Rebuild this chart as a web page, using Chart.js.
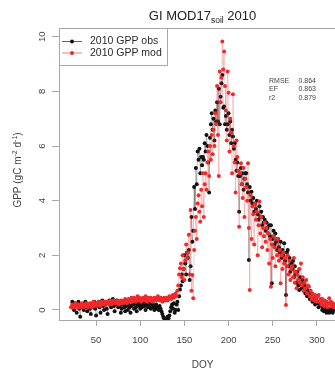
<!DOCTYPE html>
<html>
<head>
<meta charset="utf-8">
<script src="https://cdn.jsdelivr.net/npm/chart.js@4"></script>
<style>
  html, body { margin:0; padding:0; background:#fff; overflow:hidden; }
  #wrap { width:350px; height:371px; }
</style>
</head>
<body>
<div id="wrap"><canvas id="gpp" width="350" height="371"></canvas></div>
<script>
// —————— DATA ——————
const firstDoy = 22;
const xTicks = [50, 100, 150, 200, 250, 300];
const yTicks = [0, 2, 4, 6, 8, 10];

// observed GPP, one value per day from DOY 22
const gppObs = [
  0.1, 0.3, 0.2, 0.0, 0.25, 0.15, -0.1, 0.2, 0.3, 0.05,
  -0.25, 0.1, 0.2, 0.15, 0.0, 0.25, 0.3, 0.1, -0.05, 0.2,
  0.15, 0.05, -0.15, 0.2, 0.25, 0.1, 0.3, 0.05, -0.2, 0.15,
  0.2, 0.3, 0.1, -0.1, 0.25, 0.35, 0.15, 0.0, 0.3, 0.2,
  0.05, -0.15, 0.25, 0.35, 0.2, 0.1, 0.3, 0.4, 0.15, -0.05,
  0.2, 0.35, 0.25, 0.1, 0.3, 0.15, -0.1, 0.05, 0.2, 0.3,
  0.1, -0.05, 0.15, 0.25, 0.0, 0.2, 0.1, -0.1, 0.15, 0.3,
  0.2, 0.05, 0.25, 0.1, -0.05, 0.2, 0.3, 0.15, 0.05, 0.25,
  0.1, 0.2, 0.3, 0.15, 0.0, 0.2, 0.25, 0.1, 0.3, 0.15,
  0.05, 0.2, 0.25, 0.1, 0.0, 0.15, 0.2, 0.05, 0.1, 0.0,
  0.15, 0.05, -0.05, -0.15, -0.25, -0.3, -0.35, -0.35, -0.3, -0.25,
  -0.3, -0.2, -0.05, 0.1, 0.2, 0.05, 0.25, -0.1, 0.0, 0.2,
  0.3, 0.0, 0.5, 0.75, 0.9, 1.3, 1.05, 1.5, 2.0, 1.7,
  1.3, 2.1, 1.9, 2.2, 1.1, 1.6, 3.4, 2.5, 2.9, 4.5,
  3.7, 5.2, 4.6, 5.8, 5.5, 5.9, 5.0, 5.6, 5.3, 5.6,
  5.5, 6.1, 5.8, 6.4, 6.0, 5.4, 4.3, 6.3, 6.8, 7.2,
  6.6, 7.0, 6.2, 7.3, 6.9, 7.6, 6.9, 8.1, 6.8, 7.8,
  8.3, 8.6, 7.4, 7.45, 6.8, 7.1, 6.6, 6.8, 7.2, 6.4,
  6.9, 6.1, 6.6, 6.35, 5.9, 6.1, 5.5, 5.1, 5.4, 4.9,
  3.6, 4.9, 5.2, 4.6, 5.0, 4.4, 4.8, 5.0, 5.0, 4.6,
  4.3, 1.83, 4.5, 4.0, 4.33, 3.9, 4.1, 3.6, 3.9, 3.7,
  4.0, 3.5, 3.3, 3.8, 3.4, 3.6, 3.1, 3.4, 3.2, 3.3,
  2.9, 3.2, 3.0, 2.8, 3.1, 2.7, 3.1, 0.98, 2.6, 2.9,
  2.4, 2.8, 2.5, 2.2, 2.6, 2.3, 2.1, 2.5, 1.9, 2.2,
  2.0, 2.44, 1.8, 0.55, 2.1, 2.2, 1.6, 1.9, 1.4, 1.7,
  1.5, 1.8, 1.2, 1.6, 1.3, 1.0, 1.4, 0.9, 0.73, 1.2,
  1.0, 0.8, 1.1, 0.7, 0.9, 0.6, 0.8, 0.5, 0.7, 0.6,
  0.4, 0.6, 0.5, 0.3, 0.45, 0.35, 0.2, 0.4, 0.3, 0.25,
  0.1, 0.3, 0.2, 0.18, 0.0, 0.1, -0.05, 0.15, 0.0, -0.1,
  -0.06, 0.05, -0.1, 0.0, -0.05, 0.05, -0.1, 0.0, 0.1
];

// modelled GPP (MOD17 soil), same days
const gppMod = [
  0.1, 0.2, 0.15, 0.1, 0.2, 0.25, 0.15, 0.1, 0.2, 0.15,
  0.1, 0.2, 0.25, 0.15, 0.1, 0.2, 0.15, 0.25, 0.2, 0.1,
  0.15, 0.25, 0.2, 0.1, 0.2, 0.3, 0.15, 0.2, 0.25, 0.15,
  0.2, 0.3, 0.25, 0.15, 0.2, 0.3, 0.25, 0.2, 0.3, 0.2,
  0.25, 0.3, 0.2, 0.3, 0.35, 0.25, 0.2, 0.3, 0.35, 0.25,
  0.3, 0.25, 0.35, 0.3, 0.2, 0.3, 0.35, 0.3, 0.25, 0.35,
  0.3, 0.4, 0.3, 0.25, 0.35, 0.4, 0.3, 0.35, 0.45, 0.3,
  0.35, 0.45, 0.4, 0.3, 0.4, 0.5, 0.35, 0.45, 0.4, 0.3,
  0.4, 0.45, 0.35, 0.4, 0.5, 0.4, 0.3, 0.45, 0.4, 0.35,
  0.45, 0.4, 0.3, 0.35, 0.45, 0.4, 0.35, 0.45, 0.5, 0.4,
  0.35, 0.45, 0.4, 0.3, 0.4, 0.45, 0.35, 0.4, 0.45, 0.35,
  0.4, 0.5, 0.45, 0.4, 0.5, 0.55, 0.45, 0.5, 0.6, 0.5,
  0.7, 0.9, 1.3, 1.53, 1.7, 1.2, 2.0, 1.5, 1.1, 1.8,
  2.4, 1.9, 2.1, 2.75, 1.3, 3.66, 0.7, 1.28, 0.43, 2.2,
  2.9, 3.4, 2.6, 3.9, 4.2, 3.6, 3.23, 4.4, 3.8, 5.0,
  3.4, 4.6, 5.0, 4.4, 5.4, 5.8, 4.9, 6.0, 5.5, 6.4,
  5.7, 6.6, 6.0, 7.2, 6.8, 8.2, 6.4, 4.9, 8.73, 7.6,
  8.5, 9.83, 8.8, 9.46, 8.2, 7.3, 6.2, 8.73, 7.95, 5.8,
  7.0, 6.5, 5.0, 7.9, 6.0, 5.4, 4.3, 6.2, 5.6, 5.1,
  3.05, 5.0, 5.37, 4.6, 4.1, 5.2, 3.4, 4.8, 4.5, 4.0,
  5.37, 3.0, 0.73, 4.2, 2.6, 3.8, 3.5, 2.4, 3.9, 3.3,
  3.6, 2.0, 3.1, 3.97, 2.8, 3.4, 2.3, 3.0, 2.7, 3.2,
  2.5, 3.0, 2.2, 2.8, 1.7, 2.6, 0.85, 2.4, 1.9, 2.7,
  2.3, 1.6, 2.6, 2.0, 2.6, 1.8, 2.2, 0.98, 2.0, 1.5,
  2.1, 1.7, 1.9, 0.18, 1.6, 2.0, 1.3, 1.8, 1.1, 1.5,
  1.6, 1.2, 1.9, 1.0, 1.4, 0.8, 1.3, 1.1, 1.5, 1.0,
  1.7, 0.9, 1.2, 0.7, 1.0, 0.8, 1.1, 0.6, 0.9, 0.85,
  0.5, 0.7, 0.4, 0.6, 0.5, 0.35, 0.55, 0.4, 0.3, 0.5,
  0.55, 0.3, 0.4, 0.2, 0.4, 0.3, 0.15, 0.35, 0.2, 0.3,
  0.1, 0.25, 0.43, 0.2, 0.3, 0.15, 0.25, 0.1, 0.2
];

const statLabels = ['RMSE', 'EF', 'r2'];
const statValues = ['0.864', '0.863', '0.879'];

// —————— STYLE ——————
const FONT = "'Liberation Sans', Arial, Helvetica, sans-serif";
const AXIS_GREY = '#a8a8a8';
const TEXT = '#444';
const RED = '#ee2a2a';

function toPoints(vals) {
  return vals.map((v, i) => ({ x: firstDoy + i, y: v }));
}

// draws a run of text pieces (for sub/superscripts), centred on x
function drawRich(ctx, parts, x, y) {
  let total = 0;
  parts.forEach(p => {
    ctx.font = p.size + 'px ' + FONT;
    p.w = ctx.measureText(p.t).width;
    total += p.w;
  });
  let cx = x - total / 2;
  ctx.textAlign = 'left';
  ctx.textBaseline = 'alphabetic';
  parts.forEach(p => {
    ctx.font = p.size + 'px ' + FONT;
    ctx.fillText(p.t, cx, y + (p.dy || 0));
    cx += p.w;
  });
}

const decor = {
  id: 'decor',
  afterDraw(chart) {
    const { ctx, chartArea: a, scales } = chart;
    ctx.save();

    // plot box: top + right
    ctx.strokeStyle = AXIS_GREY;
    ctx.lineWidth = 1;
    ctx.beginPath();
    ctx.moveTo(a.left, a.top + 0.5);
    ctx.lineTo(a.right + 0.5, a.top + 0.5);
    ctx.lineTo(a.right + 0.5, a.bottom);
    ctx.stroke();

    ctx.fillStyle = '#222';
    // title
    const mid = (a.left + a.right) / 2;
    drawRich(ctx, [
      { t: 'GI MOD17', size: 13 },
      { t: 'soil', size: 8.5, dy: 3 },
      { t: ' 2010', size: 13 }
    ], mid, 20);

    ctx.fillStyle = TEXT;
    // y tick labels, rotated like R
    ctx.font = '9.5px ' + FONT;
    yTicks.forEach(v => {
      const py = scales.y.getPixelForValue(v);
      ctx.save();
      ctx.translate(45, py);
      ctx.rotate(-Math.PI / 2);
      ctx.textAlign = 'center';
      ctx.textBaseline = 'alphabetic';
      ctx.fillText(String(v), 0, 0);
      ctx.restore();
    });

    // y title
    ctx.save();
    ctx.translate(21, 170);
    ctx.rotate(-Math.PI / 2);
    drawRich(ctx, [
      { t: 'GPP (gC m', size: 10 },
      { t: '-2', size: 7, dy: -4 },
      { t: ' d', size: 10 },
      { t: '-1', size: 7, dy: -4 },
      { t: ')', size: 10 }
    ], 0, 0);
    ctx.restore();

    // x title
    ctx.font = '10px ' + FONT;
    ctx.textAlign = 'center';
    ctx.textBaseline = 'middle';
    ctx.fillText('DOY', mid, 365);

    // legend box
    const lx = a.left, ly = a.top, lw = 108, lh = 37;
    ctx.fillStyle = '#fff';
    ctx.fillRect(lx + 0.5, ly + 0.5, lw, lh);
    ctx.strokeStyle = AXIS_GREY;
    ctx.strokeRect(lx + 0.5, ly + 0.5, lw, lh);
    chart.data.datasets.forEach((ds, i) => {
      const ry = ly + 13.5 + i * 11.5;
      ctx.strokeStyle = ds.legendLine;
      ctx.lineWidth = 1;
      ctx.beginPath();
      ctx.moveTo(lx + 3, ry);
      ctx.lineTo(lx + 23, ry);
      ctx.stroke();
      ctx.fillStyle = ds.pointBackgroundColor;
      ctx.beginPath();
      ctx.arc(lx + 13, ry, 2, 0, Math.PI * 2);
      ctx.fill();
      ctx.fillStyle = '#2a2a2a';
      ctx.font = '10.5px ' + FONT;
      ctx.textAlign = 'left';
      ctx.textBaseline = 'middle';
      ctx.fillText(ds.label, lx + 31, ry);
    });

    // stats
    ctx.fillStyle = '#444';
    ctx.font = '7px ' + FONT;
    ctx.textBaseline = 'middle';
    statLabels.forEach((lab, i) => {
      const sy = 81 + i * 8.5;
      ctx.textAlign = 'left';
      ctx.fillText(lab, 269, sy);
      ctx.textAlign = 'right';
      ctx.fillText(statValues[i], 316, sy);
    });

    ctx.restore();
  }
};

new Chart(document.getElementById('gpp'), {
  type: 'line',
  data: {
    datasets: [
      {
        label: '2010 GPP obs',
        data: toPoints(gppObs),
        borderColor: 'rgba(0,0,0,0.3)',
        legendLine: 'rgba(0,0,0,0.6)',
        borderWidth: 0.8,
        pointRadius: 2,
        pointBorderWidth: 0,
        pointBackgroundColor: '#111',
        order: 2
      },
      {
        label: '2010 GPP mod',
        data: toPoints(gppMod),
        borderColor: 'rgba(238,42,42,0.3)',
        legendLine: 'rgba(238,42,42,0.6)',
        borderWidth: 0.8,
        pointRadius: 2,
        pointBorderWidth: 0,
        pointBackgroundColor: RED,
        order: 1
      }
    ]
  },
  options: {
    responsive: false,
    animation: false,
    layout: { padding: { left: 0, right: 4, top: 28, bottom: 0 } },
    plugins: { legend: { display: false }, tooltip: { enabled: false }, title: { display: false } },
    scales: {
      x: {
        type: 'linear',
        min: 8, max: 333,
        afterBuildTicks: s => { s.ticks = xTicks.map(v => ({ value: v })); },
        afterFit: s => { s.height = 51; },
        grid: { drawOnChartArea: false, color: AXIS_GREY, tickLength: 6 },
        border: { color: AXIS_GREY },
        ticks: { color: TEXT, font: { family: FONT, size: 9.5 }, padding: 9, maxRotation: 0 }
      },
      y: {
        min: -0.366, max: 10.32,
        afterBuildTicks: s => { s.ticks = yTicks.map(v => ({ value: v })); },
        afterFit: s => { s.width = 59; },
        grid: { drawOnChartArea: false, color: AXIS_GREY, tickLength: 7 },
        border: { color: AXIS_GREY },
        ticks: { display: false }
      }
    }
  },
  plugins: [decor]
});
</script>
</body>
</html>
